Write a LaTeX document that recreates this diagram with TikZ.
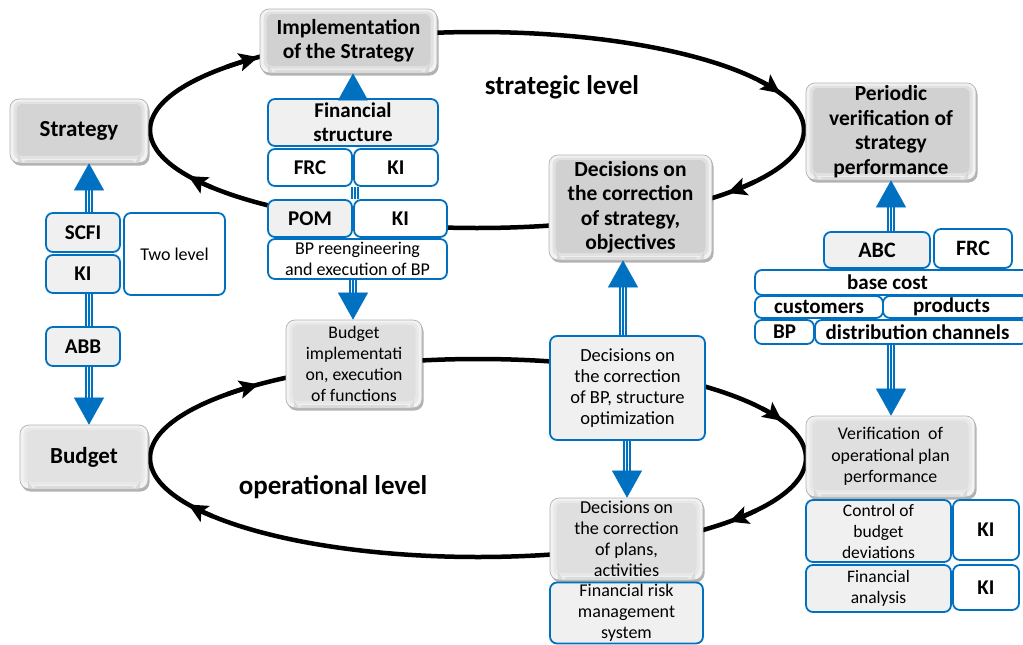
\documentclass[tikz,border=0pt]{standalone}
\usepackage{fontspec}
\setmainfont{Carlito}
\usetikzlibrary{arrows.meta,shadows,calc}
\definecolor{bl}{RGB}{0,112,192}
\definecolor{lg}{RGB}{240,240,240}
\newcommand\fs[2]{\fontsize{#1}{#2}\selectfont}
\newcommand\barr[2]{%
  \draw[line width=8pt, bl, shorten >=24pt] #1 -- #2;
  \draw[line width=4pt, white, shorten >=24pt] #1 -- #2;
  \draw[line width=1.2pt, bl, shorten >=24pt] #1 -- #2;
  \draw[bl, line width=0.4pt, -{Triangle[length=27pt,width=30pt]}] #1 -- #2;}
\newcommand\bshaft[2]{%
  \draw[line width=8pt, bl] #1 -- #2;
  \draw[line width=4pt, white] #1 -- #2;
  \draw[line width=1.2pt, bl] #1 -- #2;}
\begin{document}
\begin{tikzpicture}[x=1pt,y=-1pt,
  gb/.style={rounded corners=9pt, draw=gray!60, line width=0.7pt, fill=gray!10,
    drop shadow={shadow xshift=1.5pt,shadow yshift=-2.5pt,opacity=0.3,fill=black},
    inner sep=0pt, align=center, font=\bfseries\fs{21.5}{24.5},
    path picture={
      \fill[gray!#1, opacity=0.5, rounded corners=7pt]
      ([shift={(3.5pt,-2.5pt)}]path picture bounding box.north west) rectangle
      ([shift={(-3.5pt,4pt)}]path picture bounding box.south east);
      \fill[gray!#1, rounded corners=6pt]
      ([shift={(6.5pt,-5pt)}]path picture bounding box.north west) rectangle
      ([shift={(-6.5pt,7pt)}]path picture bounding box.south east);
      \fill[gray!45, opacity=0.5]
      ([shift={(8pt,1pt)}]path picture bounding box.south west) rectangle
      ([shift={(-8pt,3pt)}]path picture bounding box.south east);}},
  bb/.style={rounded corners=7pt, draw=bl, line width=1.8pt, fill=#1,
    inner sep=0pt, align=center},
  bt/.style={font=\bfseries\fs{21}{24}},
  ct/.style={font=\bfseries\fs{21}{22}},
  ell/.style={line width=4.5pt, black},
  etip/.style={-{Stealth[length=19pt,width=18pt,inset=4pt]}},
  lvl/.style={font=\bfseries\fs{27}{30}}
]
\useasboundingbox (0,0) rectangle (1023,645);
\clip (0,0) rectangle (1023,645);

% loops
\coordinate (cs) at (477,130);
\coordinate (co) at (478,458);
\draw[ell] (cs) ellipse [x radius=327, y radius=98];
\draw[ell] (co) ellipse [x radius=328, y radius=99];
\foreach \a in {228,338,40,152}{
  \draw[ell,etip] (cs) ++(\a-8:327 and 98) arc[start angle=\a-8, end angle=\a, x radius=327, y radius=98];
  \draw[ell,etip] (co) ++(\a-8:328 and 99) arc[start angle=\a-8, end angle=\a, x radius=328, y radius=99];
}

\node[lvl] (sl) at (562,87) {strategic level};
\node[lvl] (ol) at (333,487) {operational level};

% gray boxes
\node[gb=36, minimum width=177pt, minimum height=64pt] (impl) at (348.5,41) {Implementation\\of the Strategy};
\node[gb=34, font=\bfseries\fs{23}{26}, minimum width=138pt, minimum height=64pt] (strat) at (79,131) {Strategy};
\node[gb=36, minimum width=170pt, minimum height=97pt] (period) at (891,131.5) {Periodic\\verification of\\strategy\\performance};
\node[gb=36, minimum width=163pt, minimum height=105pt] (decstr) at (630.5,207.5) {Decisions on\\the correction\\of strategy,\\objectives};
\node[gb=23, font=\bfseries\fs{23}{26}, minimum width=128pt, minimum height=64pt] (budget) at (84,457) {Budget};
\node[gb=25, font=\fs{17.7}{21}, minimum width=136pt, minimum height=88pt] (budimpl) at (354,364) {Budget\\implementati\\on, execution\\of functions};
\node[gb=25, font=\fs{18.2}{21}, minimum width=153pt, minimum height=82pt] (decpl) at (626.5,539) {Decisions on\\the correction\\of plans,\\activities};
\node[gb=25, font=\fs{17.8}{21.5}, minimum width=169pt, minimum height=81pt] (verif) at (890.5,456.5) {Verification~ of\\operational plan\\performance};

% blue boxes - centre column
\node[bb=lg, bt, minimum width=170pt, minimum height=47pt] (finstr) at (353,122.5) {Financial\\structure};
\node[bb=white, ct, minimum width=84pt, minimum height=37pt] (frc1) at (310,167.5) {FRC};
\node[bb=white, ct, minimum width=84pt, minimum height=37pt] (ki1) at (396,167.5) {KI};
\node[bb=lg, ct, minimum width=84pt, minimum height=37pt] (pom) at (310,218.5) {POM};
\node[bb=white, ct, minimum width=93pt, minimum height=37pt] (ki2) at (400.5,218.5) {KI};
\node[bb=white, font=\fs{18}{21}, minimum width=179pt, minimum height=40pt] (bpre) at (357.5,259) {BP reengineering\\and execution of BP};

% left column
\node[bb=lg, ct, minimum width=74pt, minimum height=39pt] (scfi) at (83,232.5) {SCFI};
\node[bb=lg, ct, minimum width=74pt, minimum height=38pt] (ki0) at (83,274) {KI};
\node[bb=white, font=\fs{18}{20}, minimum width=101pt, minimum height=82pt] (two) at (174.5,254) {Two level};
\node[bb=lg, ct, minimum width=74pt, minimum height=39pt] (abb) at (83,346.5) {ABB};

% decisions column
\node[bb=lg, font=\fs{18.5}{21}, minimum width=155pt, minimum height=104pt] (decbp) at (627.5,388) {Decisions on\\the correction\\of BP, structure\\optimization};
\node[bb=lg, font=\fs{18}{21}, minimum width=153pt, minimum height=61pt] (frm) at (626.5,613) {Financial risk\\management\\system};

% right column
\node[bb=lg, font=\bfseries\fs{22}{22}, minimum width=106pt, minimum height=36pt] (abc) at (877,250) {ABC};
\node[bb=white, font=\bfseries\fs{22}{22}, minimum width=78pt, minimum height=39pt] (frc2) at (973,248.5) {FRC};
\node[bb=white, font=\bfseries\fs{21}{20}, minimum width=275pt, minimum height=25pt] (base) at (892.5,282.5) {\hspace*{-10pt}base cost};
\node[bb=white, font=\bfseries\fs{21}{20}, minimum width=128pt, minimum height=22pt] (cust) at (819,307) {customers};
\node[bb=white, font=\bfseries\fs{21}{20}, minimum width=145pt, minimum height=22pt] (prod) at (955.5,307) {\hspace*{-8pt}products};
\node[bb=white, font=\bfseries\fs{21}{20}, minimum width=59pt, minimum height=24pt] (bp) at (784.5,332) {BP};
\node[bb=white, font=\bfseries\fs{21}{20}, minimum width=213pt, minimum height=24pt] (dist) at (921.5,332) {\hspace*{-8pt}distribution channels};
\node[bb=lg, font=\fs{17.5}{21}, minimum width=145pt, minimum height=62pt] (ctrl) at (878.5,531) {Control of\\budget\\deviations};
\node[bb=white, ct, minimum width=66pt, minimum height=60pt] (ki3) at (986,530) {KI};
\node[bb=lg, font=\fs{17.5}{21}, minimum width=145pt, minimum height=47pt] (fa) at (878.5,588.5) {Financial\\analysis};
\node[bb=white, ct, minimum width=66pt, minimum height=45pt] (ki4) at (986,587.5) {KI};

% blue arrows
\coordinate (xL) at (89,0);
\coordinate (xM) at (353,0);
\coordinate (xM2) at (355,0);
\coordinate (xD1) at (623,0);
\coordinate (xD2) at (627,0);
\coordinate (xR) at (891,0);
\barr{(xL |- scfi.north)}{(xL |- strat.south)}
\bshaft{(xL |- ki0.south)}{(xL |- abb.north)}
\barr{(xL |- abb.south)}{(xL |- budget.north)}
\barr{(xM |- finstr.north)}{(xM |- impl.south)}
\bshaft{(xM2 |- ki1.south)}{(xM2 |- pom.north)}
\barr{(xM |- bpre.south)}{(xM |- budimpl.north)}
\barr{(xD1 |- decbp.north)}{(xD1 |- decstr.south)}
\barr{(xD2 |- decbp.south)}{(xD2 |- decpl.north)}
\barr{(xR |- abc.north)}{(xR |- period.south)}
\barr{(xR |- dist.south)}{(xR |- verif.north)}
\end{tikzpicture}
\end{document}
